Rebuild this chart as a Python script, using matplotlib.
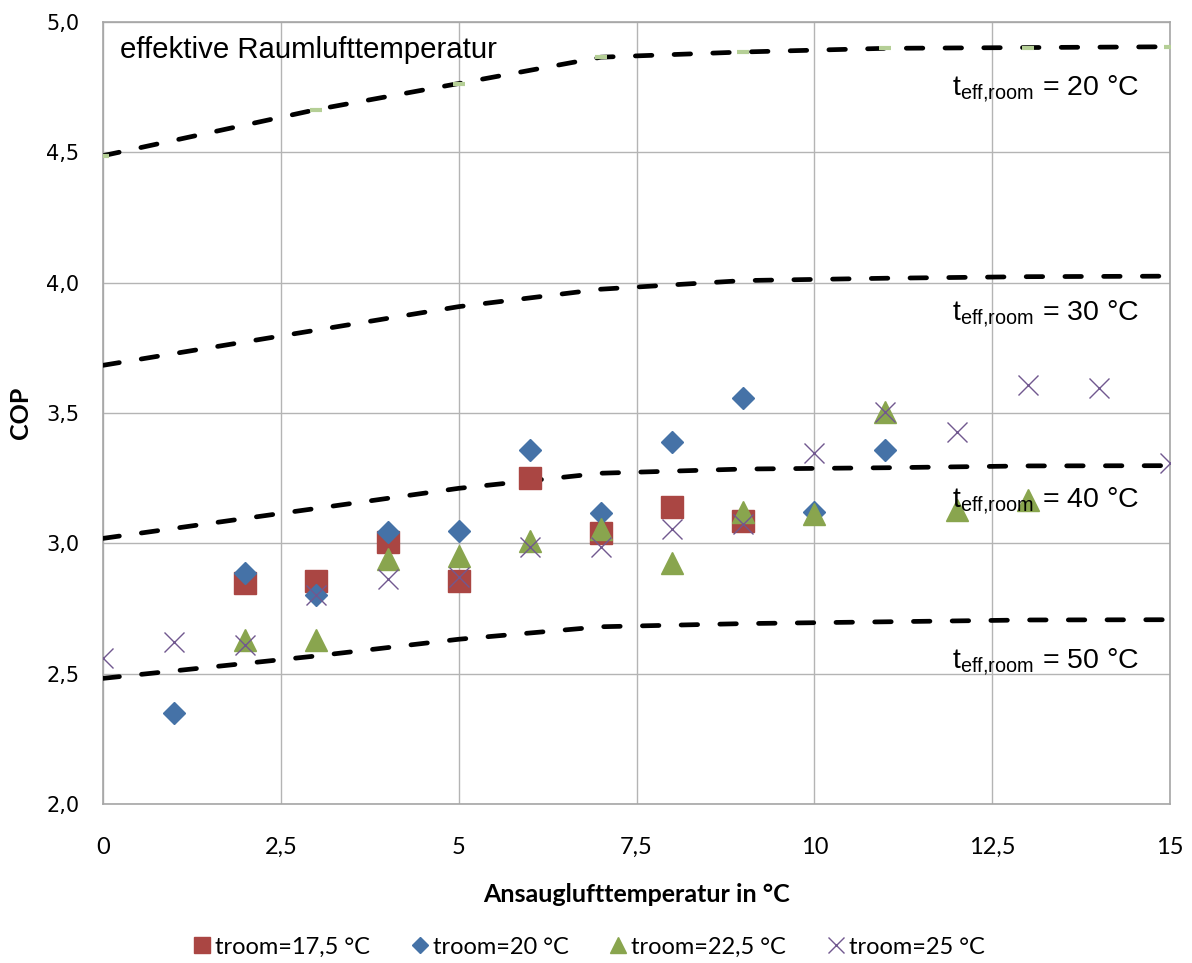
import matplotlib
matplotlib.use("Agg")
import matplotlib.pyplot as plt
from matplotlib.lines import Line2D

# ---------------- data ----------------
x_line = [0, 3, 5, 7, 9, 11, 13, 15]
cop_20 = [4.487, 4.664, 4.764, 4.865, 4.885, 4.899, 4.902, 4.905]
cop_30 = [3.683, 3.818, 3.908, 3.975, 4.008, 4.017, 4.023, 4.025]
cop_40 = [3.019, 3.134, 3.211, 3.269, 3.285, 3.290, 3.297, 3.298]
cop_50 = [2.482, 2.568, 2.632, 2.680, 2.692, 2.699, 2.706, 2.707]

x_175 = [2, 3, 4, 5, 6, 7, 8, 9]
y_175 = [2.847, 2.855, 3.006, 2.855, 3.250, 3.038, 3.140, 3.087]

x_20 = [1, 2, 3, 4, 5, 6, 7, 8, 9, 10, 11]
y_20 = [2.350, 2.887, 2.800, 3.042, 3.047, 3.358, 3.118, 3.387, 3.557, 3.119, 3.358]

x_225 = [2, 3, 4, 5, 6, 7, 8, 9, 10, 11, 12, 13]
y_225 = [2.630, 2.630, 2.940, 2.950, 3.010, 3.054, 2.926, 3.122, 3.111, 3.505, 3.128, 3.166]

x_25 = [0, 1, 2, 3, 4, 5, 6, 7, 8, 9, 10, 11, 12, 13, 14, 15]
y_25 = [2.560, 2.620, 2.610, 2.800, 2.863, 2.870, 2.987, 2.985, 3.054, 3.074, 3.348, 3.505, 3.428, 3.607, 3.595, 3.307]

x_ticks = [0, 2.5, 5, 7.5, 10, 12.5, 15]
x_ticklabels = ["0", "2,5", "5", "7,5", "10", "12,5", "15"]
y_ticks = [2.0, 2.5, 3.0, 3.5, 4.0, 4.5, 5.0]
y_ticklabels = ["2,0", "2,5", "3,0", "3,5", "4,0", "4,5", "5,0"]

line_labels = ["20", "30", "40", "50"]
label_y = [4.72, 3.857, 3.14, 2.52]

legend_labels = ["troom=17,5 °C", "troom=20 °C", "troom=22,5 °C", "troom=25 °C"]

# ---------------- style ----------------
C_RED = "#AA4643"
C_BLUE = "#4572A7"
C_GREEN = "#89A54E"
C_PURPLE = "#71588F"
NARROW = ["Lato", "DejaVu Sans"]

fig = plt.figure(figsize=(11.92, 9.63), dpi=100)
ax = fig.add_axes([103/1192, 1-804/963, (1170-103)/1192, (804-22)/963])

dash_kw = dict(color="black", lw=3.4, dashes=(3.5, 4.7), dash_capstyle="round", zorder=3)
ax.plot(x_line, cop_20, marker="_", ms=9, mew=3, mec="#B5CF96", mfc="#B5CF96", **dash_kw)
for yy in (cop_30, cop_40, cop_50):
    ax.plot(x_line, yy, **dash_kw)

ax.plot(x_175, y_175, ls="none", marker="s", ms=15.8, color=C_RED, zorder=4)
ax.plot(x_20, y_20, ls="none", marker="D", ms=11.0, color=C_BLUE, zorder=4)
ax.plot(x_225, y_225, ls="none", marker="^", ms=15.8, color=C_GREEN, zorder=4)
ax.plot(x_25, y_25, ls="none", marker="x", ms=15, mew=1.0, color=C_PURPLE, zorder=5)

ax.set_xlim(0, 15)
ax.set_ylim(2.0, 5.0)
ax.set_xticks(x_ticks)
ax.set_xticklabels(x_ticklabels, fontfamily=NARROW, fontsize=17)
ax.set_yticks(y_ticks)
ax.set_yticklabels(y_ticklabels, fontfamily="DejaVu Sans", fontsize=15)
ax.tick_params(axis="both", length=0, colors="black")
ax.tick_params(axis="x", pad=24)
ax.tick_params(axis="y", pad=17)
ax.grid(True, color="#B4B4B4", lw=1.0, zorder=0)
ax.set_axisbelow(True)
for s in ax.spines.values():
    s.set_color("#A6A6A6")
    s.set_linewidth(1.2)

ax.set_xlabel("Ansauglufttemperatur in °C", fontfamily=NARROW, fontweight="bold", fontsize=18, labelpad=18)
ax.set_ylabel("COP", fontfamily=NARROW, fontweight="bold", fontsize=18, labelpad=10)

ax.text(0.24, 4.86, "effektive Raumlufttemperatur", fontfamily="Liberation Sans", fontsize=21.2,
        ha="left", va="baseline", zorder=6)
for lab, yy in zip(line_labels, label_y):
    ax.text(11.93, yy, r"$\mathregular{t_{eff{,}room}}$ = " + lab + " °C", fontfamily="Liberation Sans",
            fontsize=20.5, ha="left", va="baseline", zorder=6)

handles = [
    Line2D([], [], ls="none", marker="s", ms=11, color=C_RED),
    Line2D([], [], ls="none", marker="D", ms=8, color=C_BLUE),
    Line2D([], [], ls="none", marker="^", ms=11, color=C_GREEN),
    Line2D([], [], ls="none", marker="x", ms=11, mew=1.0, color=C_PURPLE),
]
fig.legend(handles, legend_labels, loc="center", bbox_to_anchor=(0.493, 0.0166), ncol=4,
           frameon=False, prop={"family": NARROW, "size": 17}, handletextpad=0.05,
           columnspacing=1.6, handlelength=1.0)

fig.savefig("out.png", dpi=100)
